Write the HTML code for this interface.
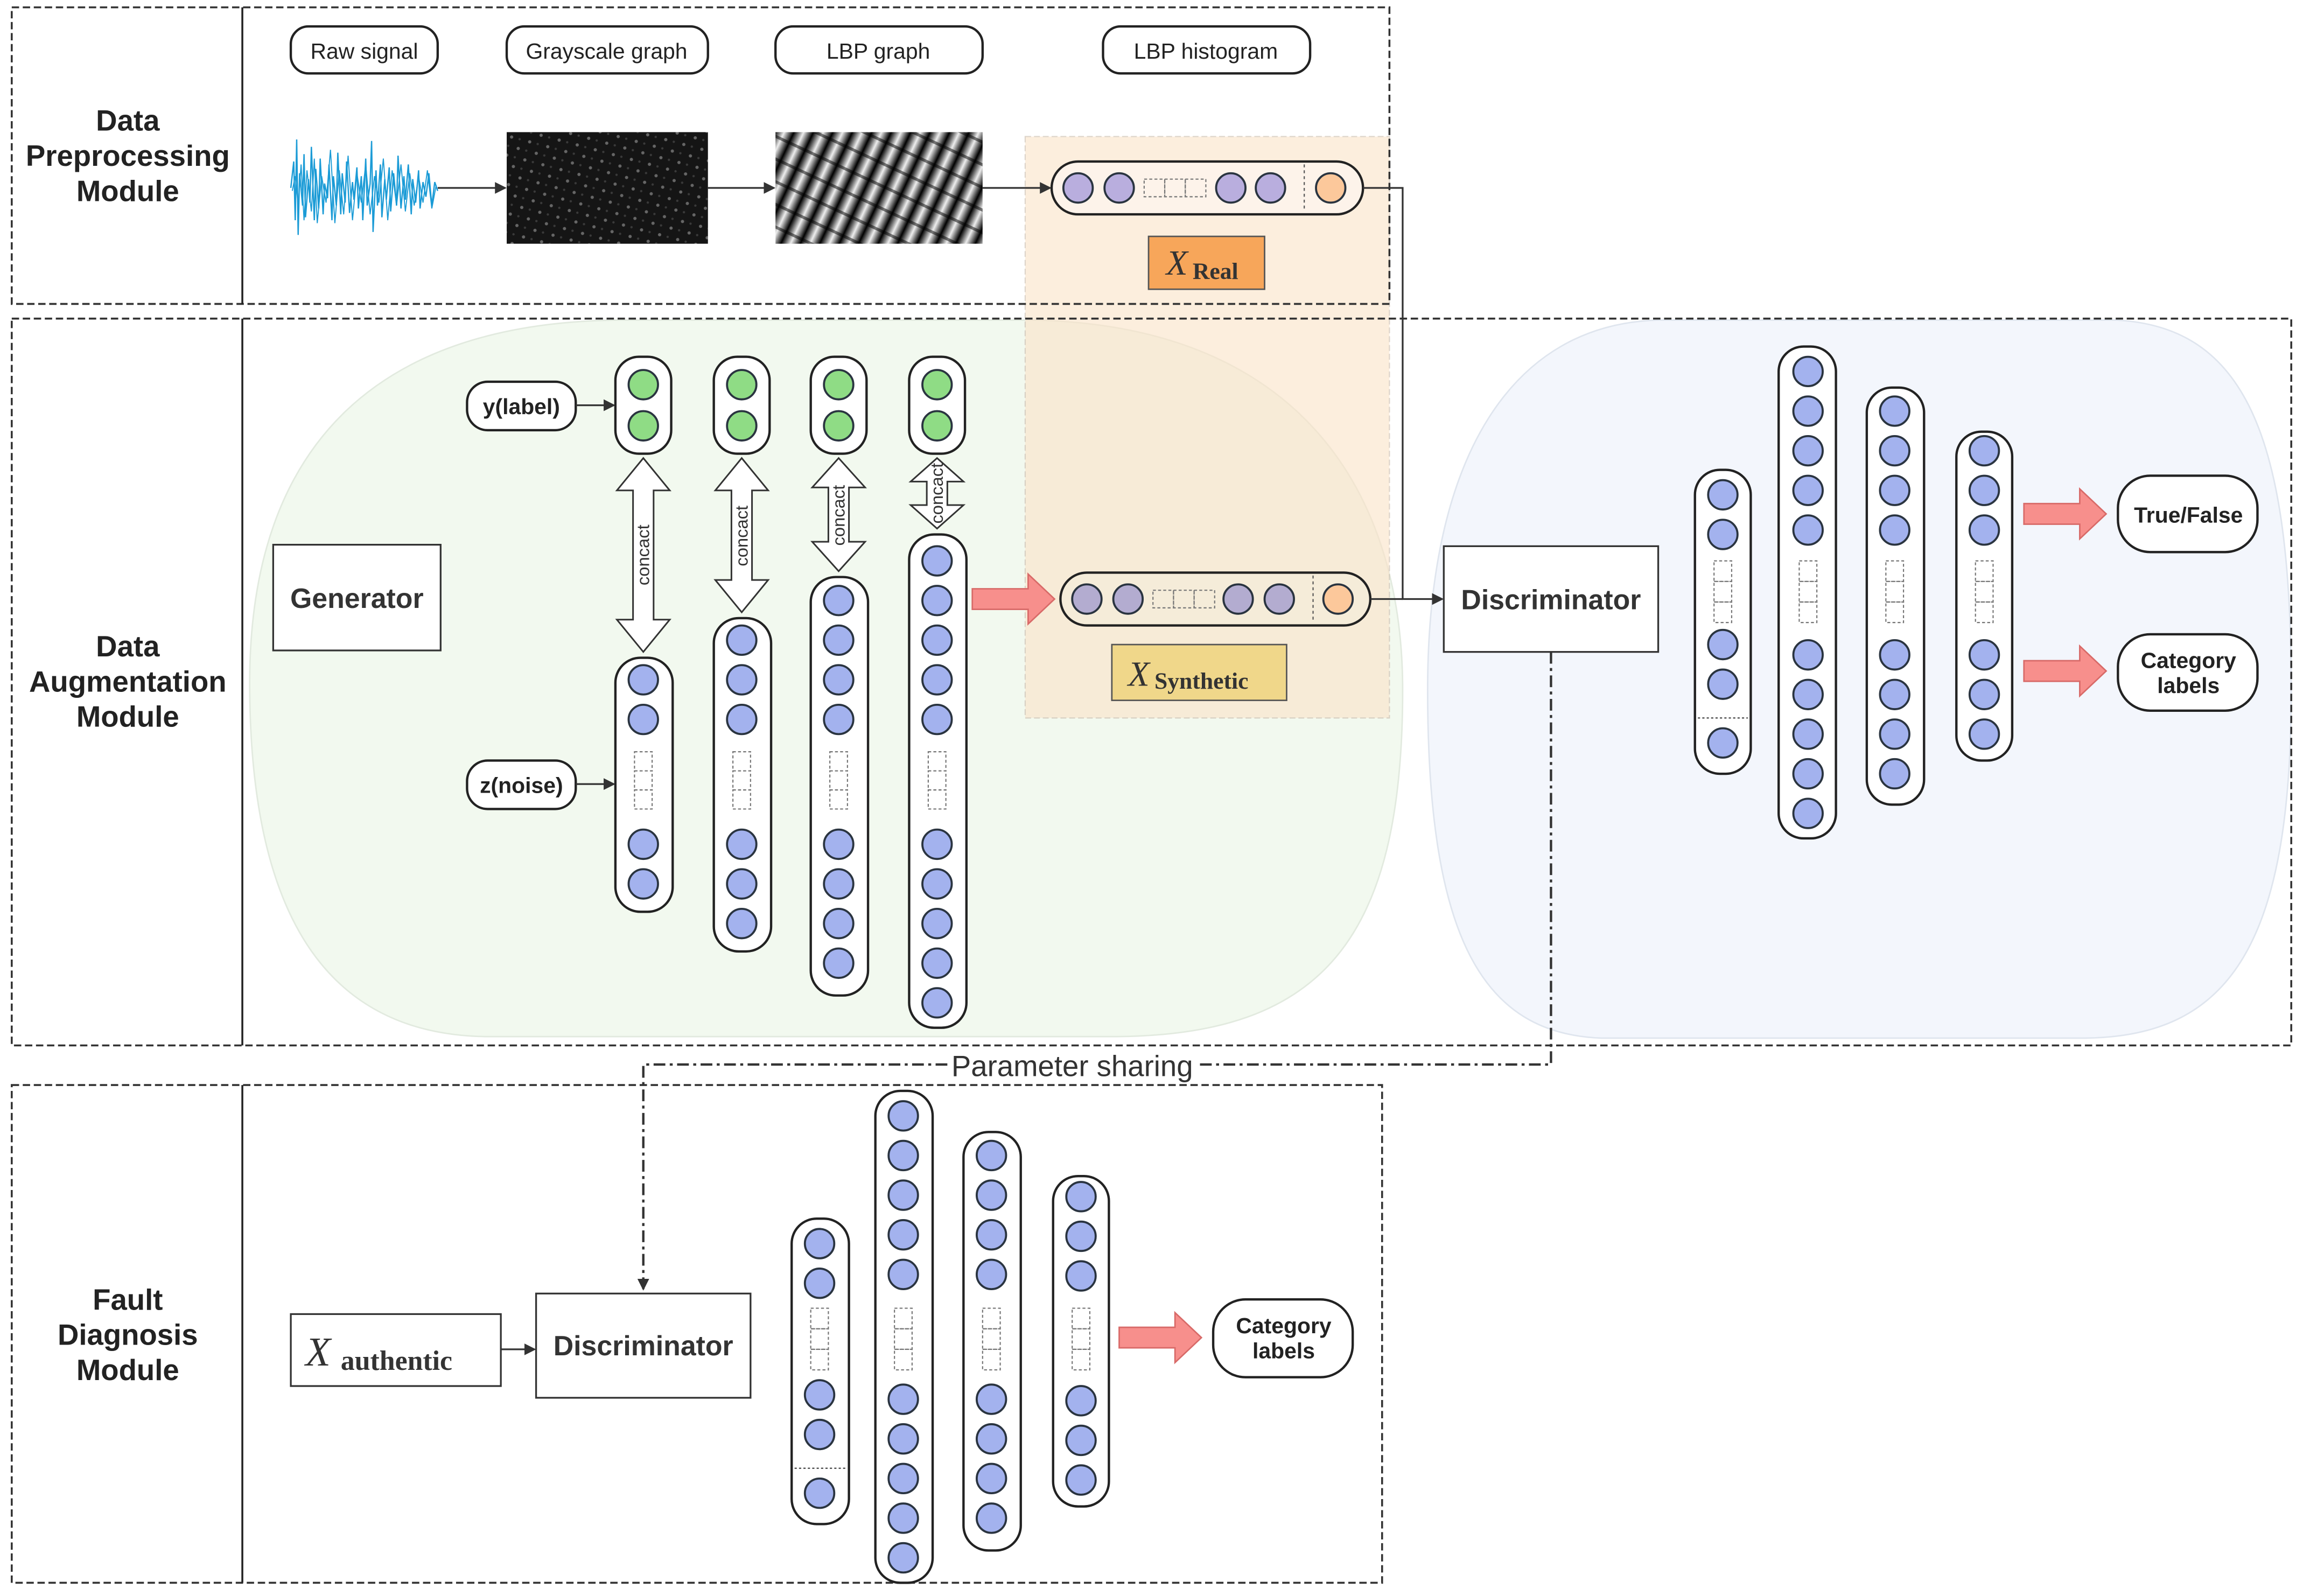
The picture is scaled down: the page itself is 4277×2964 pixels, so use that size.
<!DOCTYPE html>
<html><head><meta charset="utf-8"><style>
html,body{margin:0;padding:0;background:#fff;}
svg{display:block;}
text{font-family:"Liberation Sans",sans-serif;}
.c{fill:#a3b2ee;stroke:#2a3440;stroke-width:1.4;}
.g{fill:#8fdc85;stroke:#2a3440;stroke-width:1.4;}
.p{fill:#b9aede;stroke:#2a3440;stroke-width:1.4;}
.o{fill:#fcc89b;stroke:#2a3440;stroke-width:1.4;}
.pill{fill:#fff;stroke:#222;stroke-width:1.6;}
.ds{fill:none;stroke:#777;stroke-width:0.8;stroke-dasharray:2,1.5;}
.box{fill:#fff;stroke:#333;stroke-width:1.2;}
.mod{fill:none;stroke:#333;stroke-width:1.3;stroke-dasharray:5,2.5;}
.lbl{font-size:20px;font-weight:bold;fill:#222;text-anchor:middle;}
.pk{fill:#f78f8c;stroke:#d86a68;stroke-width:1;}
.ln{stroke:#333;stroke-width:1.2;fill:none;}
.ar{fill:#fff;stroke:#333;stroke-width:1.1;}
.mx{font-family:"Liberation Serif",serif !important;font-style:italic;fill:#333;}
.ms{font-family:"Liberation Serif",serif !important;font-weight:bold;fill:#333;}
</style></head><body>
<svg width="4277" height="2964" viewBox="0 0 1568 1087" preserveAspectRatio="none" xmlns="http://www.w3.org/2000/svg">
<defs>
<pattern id="dots" width="9" height="9" patternUnits="userSpaceOnUse" patternTransform="rotate(-30)">
<rect width="9" height="9" fill="#151515"/><circle cx="3" cy="3" r="1.1" fill="#666"/><circle cx="7" cy="7" r="0.8" fill="#3a3a3a"/>
</pattern>
<linearGradient id="sg" x1="0" x2="1"><stop offset="0" stop-color="#000"/><stop offset="0.5" stop-color="#eee"/><stop offset="1" stop-color="#000"/></linearGradient>
<pattern id="stripes" width="12" height="14" patternUnits="userSpaceOnUse" patternTransform="rotate(25)">
<rect width="12" height="14" fill="url(#sg)"/><rect y="0" width="12" height="2" fill="#000" opacity="0.5"/>
</pattern>
<marker id="ah" markerWidth="8" markerHeight="8" refX="7" refY="4" orient="auto" markerUnits="userSpaceOnUse"><path d="M0,0 L8,4 L0,8 z" fill="#333"/></marker>
</defs>

<path d="M170,465 C170,300 260,220 420,218 L700,218 C880,220 955,330 955,470 C955,640 900,705 760,706 L330,706 C220,704 170,620 170,465 Z" fill="#f2f9ef" stroke="#e2eadf" stroke-width="1"/>
<path d="M972,470 C972,310 1030,220 1130,218 L1440,218 C1530,222 1560,300 1560,470 C1560,640 1520,706 1420,707 L1090,707 C1010,704 972,640 972,470 Z" fill="#f3f6fc" stroke="#dfe5ee" stroke-width="1"/>
<rect x="698" y="93" width="248" height="396" fill="#fbe3c8" opacity="0.6" stroke="#c8b8a8" stroke-width="0.8" stroke-dasharray="4,2"/>

<rect class="mod" x="8" y="5" width="938" height="202"/>
<line x1="165" y1="5" x2="165" y2="207" stroke="#222" stroke-width="1.3"/>
<rect class="mod" x="8" y="217" width="1552" height="495"/>
<line x1="165" y1="217" x2="165" y2="712" stroke="#222" stroke-width="1.3"/>
<rect class="mod" x="8" y="739" width="933" height="339"/>
<line x1="165" y1="739" x2="165" y2="1078" stroke="#222" stroke-width="1.3"/>

<text class="lbl" x="87" y="89">Data</text><text class="lbl" x="87" y="113">Preprocessing</text><text class="lbl" x="87" y="137">Module</text>
<text class="lbl" x="87" y="447">Data</text><text class="lbl" x="87" y="471">Augmentation</text><text class="lbl" x="87" y="495">Module</text>
<text class="lbl" x="87" y="892">Fault</text><text class="lbl" x="87" y="916">Diagnosis</text><text class="lbl" x="87" y="940">Module</text>

<rect class="pill" x="198" y="18" width="100" height="32" rx="12"/><text x="248" y="40" font-size="15" text-anchor="middle" fill="#222">Raw signal</text>
<rect class="pill" x="345" y="18" width="137" height="32" rx="12"/><text x="413" y="40" font-size="15" text-anchor="middle" fill="#222">Grayscale graph</text>
<rect class="pill" x="528" y="18" width="141" height="32" rx="12"/><text x="598" y="40" font-size="15" text-anchor="middle" fill="#222">LBP graph</text>
<rect class="pill" x="751" y="18" width="141" height="32" rx="12"/><text x="821" y="40" font-size="15" text-anchor="middle" fill="#222">LBP histogram</text>

<polyline fill="none" stroke="#1b9bd6" stroke-width="0.9" points="198,128 200,110 201,150 202,95 203,160 204,118 206,140 207,105 208,148 210,122 211,138 212,100 214,150 215,115 217,142 218,108 220,146 221,125 223,135 224,112 226,150 227,120 229,140 230,104 232,146 233,118 235,138 236,110 238,145 240,124 241,136 243,114 244,142 246,120 247,150 249,108 250,140 252,125 253,96 254,158 256,116 257,140 259,112 260,148 262,122 263,136 265,114 266,144 268,118 270,140 271,106 273,142 275,120 276,136 278,112 280,146 281,122 283,138 285,116 286,142 288,124 290,134 292,118 294,140 296,124 298,130"/>
<polyline fill="none" stroke="#1b9bd6" stroke-width="0.7" points="199,130 201,120 203,140 205,112 207,150 209,116 212,144 214,108 216,152 219,120 222,138 225,102 228,152 231,116 234,146 237,106 240,150 243,118 246,138 249,112 252,146 255,120 258,138 261,108 264,150 267,116 270,140 273,112 276,144 279,118 282,140 285,120 288,138 291,116 294,142 297,126"/>
<line x1="298" y1="128" x2="344" y2="128" class="ln" marker-end="url(#ah)"/>
<rect x="345" y="90" width="137" height="76" fill="url(#dots)"/>
<line x1="482" y1="128" x2="527" y2="128" class="ln" marker-end="url(#ah)"/>
<rect x="528" y="90" width="141" height="76" fill="url(#stripes)"/>
<line x1="669" y1="128" x2="715" y2="128" class="ln" marker-end="url(#ah)"/>

<rect class="pill" x="716" y="110" width="212" height="36" rx="18" style="fill:#fdf3ea"/>
<circle class="p" cx="734" cy="128" r="10"/><circle class="p" cx="762" cy="128" r="10"/>
<rect class="ds" x="779" y="122" width="14" height="12"/><rect class="ds" x="793" y="122" width="14" height="12"/><rect class="ds" x="807" y="122" width="14" height="12"/>
<circle class="p" cx="838" cy="128" r="10"/><circle class="p" cx="865" cy="128" r="10"/>
<line x1="888" y1="112" x2="888" y2="144" stroke="#555" stroke-width="0.8" stroke-dasharray="2,2"/>
<circle class="o" cx="906" cy="128" r="10"/>
<rect x="782" y="161" width="79" height="36" fill="#f7a65a" stroke="#555" stroke-width="1"/>
<text class="mx" x="794" y="187" font-size="24">X</text><text class="ms" x="812" y="190" font-size="16">Real</text>
<polyline points="928,128 955,128 955,408 982,408" class="ln" marker-end="url(#ah)"/>

<rect class="box" x="186" y="371" width="114" height="72"/><text x="243" y="414" font-size="19" font-weight="bold" text-anchor="middle" fill="#333">Generator</text>
<rect class="pill" x="318" y="260" width="74" height="33" rx="14"/><text x="355" y="282" font-size="15" font-weight="bold" text-anchor="middle" fill="#222">y(label)</text>
<line x1="392" y1="276" x2="418" y2="276" class="ln" marker-end="url(#ah)"/>
<rect class="pill" x="318" y="518" width="74" height="33" rx="14"/><text x="355" y="540" font-size="15" font-weight="bold" text-anchor="middle" fill="#222">z(noise)</text>
<line x1="392" y1="534" x2="418" y2="534" class="ln" marker-end="url(#ah)"/>

<rect class="pill" x="419" y="243" width="38" height="66" rx="16"/><circle class="g" cx="438" cy="262" r="10"/><circle class="g" cx="438" cy="290" r="10"/>
<rect class="pill" x="486" y="243" width="38" height="66" rx="16"/><circle class="g" cx="505" cy="262" r="10"/><circle class="g" cx="505" cy="290" r="10"/>
<rect class="pill" x="552" y="243" width="38" height="66" rx="16"/><circle class="g" cx="571" cy="262" r="10"/><circle class="g" cx="571" cy="290" r="10"/>
<rect class="pill" x="619" y="243" width="38" height="66" rx="16"/><circle class="g" cx="638" cy="262" r="10"/><circle class="g" cx="638" cy="290" r="10"/>

<path class="ar" d="M438,312 L456,334 L445,334 L445,422 L456,422 L438,444 L420,422 L431,422 L431,334 L420,334 Z"/>
<text transform="translate(442,378) rotate(-90)" font-size="12" text-anchor="middle" fill="#333">concact</text>
<path class="ar" d="M505,312 L523,334 L512,334 L512,395 L523,395 L505,417 L487,395 L498,395 L498,334 L487,334 Z"/>
<text transform="translate(509,365) rotate(-90)" font-size="12" text-anchor="middle" fill="#333">concact</text>
<path class="ar" d="M571,312 L589,332 L578,332 L578,369 L589,369 L571,389 L553,369 L564,369 L564,332 L553,332 Z"/>
<text transform="translate(575,351) rotate(-90)" font-size="12" text-anchor="middle" fill="#333">concact</text>
<path class="ar" d="M638,312 L656,328 L645,328 L645,344 L656,344 L638,360 L620,344 L631,344 L631,328 L620,328 Z"/>
<text transform="translate(642,336) rotate(-90)" font-size="12" text-anchor="middle" fill="#333">concact</text>

<rect class="pill" x="419" y="448" width="39" height="173" rx="17"/>
<circle class="c" cx="438" cy="463" r="10"/><circle class="c" cx="438" cy="490" r="10"/>
<rect class="ds" x="432" y="512" width="12" height="13"/><rect class="ds" x="432" y="525" width="12" height="13"/><rect class="ds" x="432" y="538" width="12" height="13"/>
<circle class="c" cx="438" cy="575" r="10"/><circle class="c" cx="438" cy="602" r="10"/>

<rect class="pill" x="486" y="421" width="39" height="227" rx="17"/>
<circle class="c" cx="505" cy="436" r="10"/><circle class="c" cx="505" cy="463" r="10"/><circle class="c" cx="505" cy="490" r="10"/>
<rect class="ds" x="499" y="512" width="12" height="13"/><rect class="ds" x="499" y="525" width="12" height="13"/><rect class="ds" x="499" y="538" width="12" height="13"/>
<circle class="c" cx="505" cy="575" r="10"/><circle class="c" cx="505" cy="602" r="10"/><circle class="c" cx="505" cy="629" r="10"/>

<rect class="pill" x="552" y="393" width="39" height="285" rx="17"/>
<circle class="c" cx="571" cy="409" r="10"/><circle class="c" cx="571" cy="436" r="10"/><circle class="c" cx="571" cy="463" r="10"/><circle class="c" cx="571" cy="490" r="10"/>
<rect class="ds" x="565" y="512" width="12" height="13"/><rect class="ds" x="565" y="525" width="12" height="13"/><rect class="ds" x="565" y="538" width="12" height="13"/>
<circle class="c" cx="571" cy="575" r="10"/><circle class="c" cx="571" cy="602" r="10"/><circle class="c" cx="571" cy="629" r="10"/><circle class="c" cx="571" cy="656" r="10"/>

<rect class="pill" x="619" y="364" width="39" height="336" rx="17"/>
<circle class="c" cx="638" cy="382" r="10"/><circle class="c" cx="638" cy="409" r="10"/><circle class="c" cx="638" cy="436" r="10"/><circle class="c" cx="638" cy="463" r="10"/><circle class="c" cx="638" cy="490" r="10"/>
<rect class="ds" x="632" y="512" width="12" height="13"/><rect class="ds" x="632" y="525" width="12" height="13"/><rect class="ds" x="632" y="538" width="12" height="13"/>
<circle class="c" cx="638" cy="575" r="10"/><circle class="c" cx="638" cy="602" r="10"/><circle class="c" cx="638" cy="629" r="10"/><circle class="c" cx="638" cy="656" r="10"/><circle class="c" cx="638" cy="683" r="10"/>

<path class="pk" d="M662,401 L700,401 L700,391 L718,408 L700,425 L700,415 L662,415 Z"/>
<rect class="pill" x="722" y="390" width="211" height="36" rx="18" style="fill:#f5ecd9"/>
<circle class="p" cx="740" cy="408" r="10" style="fill:#b3acd0"/><circle class="p" cx="768" cy="408" r="10" style="fill:#b3acd0"/>
<rect class="ds" x="785" y="402" width="14" height="12"/><rect class="ds" x="799" y="402" width="14" height="12"/><rect class="ds" x="813" y="402" width="14" height="12"/>
<circle class="p" cx="843" cy="408" r="10" style="fill:#b3acd0"/><circle class="p" cx="871" cy="408" r="10" style="fill:#b3acd0"/>
<line x1="894" y1="392" x2="894" y2="424" stroke="#555" stroke-width="0.8" stroke-dasharray="2,2"/>
<circle class="o" cx="911" cy="408" r="10"/>
<line x1="933" y1="408" x2="955" y2="408" class="ln"/>
<rect x="757" y="439" width="119" height="38" fill="#f0d78a" stroke="#555" stroke-width="1"/>
<text class="mx" x="768" y="467" font-size="24">X</text><text class="ms" x="786" y="469" font-size="16">Synthetic</text>

<rect class="box" x="983" y="372" width="146" height="72"/><text x="1056" y="415" font-size="19" font-weight="bold" text-anchor="middle" fill="#333">Discriminator</text>
<polyline points="1056,444 1056,725 815,725" fill="none" stroke="#333" stroke-width="1.6" stroke-dasharray="8,3,2,3"/>
<polyline points="645,725 438,725 438,878" fill="none" stroke="#333" stroke-width="1.6" stroke-dasharray="8,3,2,3" marker-end="url(#ah)"/>
<text x="730" y="733" font-size="20" text-anchor="middle" fill="#333">Parameter sharing</text>

<rect class="pill" x="1154" y="320" width="38" height="207" rx="17"/>
<circle class="c" cx="1173" cy="337" r="10"/><circle class="c" cx="1173" cy="364" r="10"/>
<rect class="ds" x="1167" y="382" width="12" height="14"/><rect class="ds" x="1167" y="396" width="12" height="14"/><rect class="ds" x="1167" y="410" width="12" height="14"/>
<circle class="c" cx="1173" cy="439" r="10"/><circle class="c" cx="1173" cy="466" r="10"/>
<line x1="1156" y1="489" x2="1190" y2="489" stroke="#444" stroke-width="0.8" stroke-dasharray="1.5,1.5"/>
<circle class="c" cx="1173" cy="506" r="10"/>

<rect class="pill" x="1211" y="236" width="39" height="335" rx="17"/>
<circle class="c" cx="1231" cy="253" r="10"/><circle class="c" cx="1231" cy="280" r="10"/><circle class="c" cx="1231" cy="307" r="10"/><circle class="c" cx="1231" cy="334" r="10"/><circle class="c" cx="1231" cy="361" r="10"/>
<rect class="ds" x="1225" y="382" width="12" height="14"/><rect class="ds" x="1225" y="396" width="12" height="14"/><rect class="ds" x="1225" y="410" width="12" height="14"/>
<circle class="c" cx="1231" cy="446" r="10"/><circle class="c" cx="1231" cy="473" r="10"/><circle class="c" cx="1231" cy="500" r="10"/><circle class="c" cx="1231" cy="527" r="10"/><circle class="c" cx="1231" cy="554" r="10"/>

<rect class="pill" x="1271" y="264" width="39" height="284" rx="17"/>
<circle class="c" cx="1290" cy="280" r="10"/><circle class="c" cx="1290" cy="307" r="10"/><circle class="c" cx="1290" cy="334" r="10"/><circle class="c" cx="1290" cy="361" r="10"/>
<rect class="ds" x="1284" y="382" width="12" height="14"/><rect class="ds" x="1284" y="396" width="12" height="14"/><rect class="ds" x="1284" y="410" width="12" height="14"/>
<circle class="c" cx="1290" cy="446" r="10"/><circle class="c" cx="1290" cy="473" r="10"/><circle class="c" cx="1290" cy="500" r="10"/><circle class="c" cx="1290" cy="527" r="10"/>

<rect class="pill" x="1332" y="294" width="38" height="224" rx="17"/>
<circle class="c" cx="1351" cy="307" r="10"/><circle class="c" cx="1351" cy="334" r="10"/><circle class="c" cx="1351" cy="361" r="10"/>
<rect class="ds" x="1345" y="382" width="12" height="14"/><rect class="ds" x="1345" y="396" width="12" height="14"/><rect class="ds" x="1345" y="410" width="12" height="14"/>
<circle class="c" cx="1351" cy="446" r="10"/><circle class="c" cx="1351" cy="473" r="10"/><circle class="c" cx="1351" cy="500" r="10"/>

<path class="pk" d="M1378,343 L1416,343 L1416,333 L1434,350 L1416,367 L1416,357 L1378,357 Z"/>
<path class="pk" d="M1378,450 L1416,450 L1416,440 L1434,457 L1416,474 L1416,464 L1378,464 Z"/>
<rect class="pill" x="1442" y="324" width="95" height="52" rx="22"/><text x="1490" y="356" font-size="15" font-weight="bold" text-anchor="middle" fill="#222">True/False</text>
<rect class="pill" x="1442" y="432" width="95" height="52" rx="22"/><text x="1490" y="455" font-size="15" font-weight="bold" text-anchor="middle" fill="#222">Category</text><text x="1490" y="472" font-size="15" font-weight="bold" text-anchor="middle" fill="#222">labels</text>

<rect class="box" x="198" y="895" width="143" height="49"/>
<text class="mx" x="208" y="930" font-size="28">X</text><text class="ms" x="232" y="933" font-size="19">authentic</text>
<line x1="341" y1="919" x2="364" y2="919" class="ln" marker-end="url(#ah)"/>
<rect class="box" x="365" y="881" width="146" height="71"/><text x="438" y="923" font-size="19" font-weight="bold" text-anchor="middle" fill="#333">Discriminator</text>

<rect class="pill" x="539" y="830" width="39" height="208" rx="17"/>
<circle class="c" cx="558" cy="847" r="10"/><circle class="c" cx="558" cy="874" r="10"/>
<rect class="ds" x="552" y="891" width="12" height="14"/><rect class="ds" x="552" y="905" width="12" height="14"/><rect class="ds" x="552" y="919" width="12" height="14"/>
<circle class="c" cx="558" cy="950" r="10"/><circle class="c" cx="558" cy="977" r="10"/>
<line x1="541" y1="1000" x2="576" y2="1000" stroke="#444" stroke-width="0.8" stroke-dasharray="1.5,1.5"/>
<circle class="c" cx="558" cy="1017" r="10"/>

<rect class="pill" x="596" y="743" width="39" height="335" rx="17"/>
<circle class="c" cx="615" cy="760" r="10"/><circle class="c" cx="615" cy="787" r="10"/><circle class="c" cx="615" cy="814" r="10"/><circle class="c" cx="615" cy="841" r="10"/><circle class="c" cx="615" cy="868" r="10"/>
<rect class="ds" x="609" y="891" width="12" height="14"/><rect class="ds" x="609" y="905" width="12" height="14"/><rect class="ds" x="609" y="919" width="12" height="14"/>
<circle class="c" cx="615" cy="953" r="10"/><circle class="c" cx="615" cy="980" r="10"/><circle class="c" cx="615" cy="1007" r="10"/><circle class="c" cx="615" cy="1034" r="10"/><circle class="c" cx="615" cy="1061" r="10"/>

<rect class="pill" x="656" y="771" width="39" height="285" rx="17"/>
<circle class="c" cx="675" cy="787" r="10"/><circle class="c" cx="675" cy="814" r="10"/><circle class="c" cx="675" cy="841" r="10"/><circle class="c" cx="675" cy="868" r="10"/>
<rect class="ds" x="669" y="891" width="12" height="14"/><rect class="ds" x="669" y="905" width="12" height="14"/><rect class="ds" x="669" y="919" width="12" height="14"/>
<circle class="c" cx="675" cy="953" r="10"/><circle class="c" cx="675" cy="980" r="10"/><circle class="c" cx="675" cy="1007" r="10"/><circle class="c" cx="675" cy="1034" r="10"/>

<rect class="pill" x="717" y="801" width="38" height="225" rx="17"/>
<circle class="c" cx="736" cy="815" r="10"/><circle class="c" cx="736" cy="842" r="10"/><circle class="c" cx="736" cy="869" r="10"/>
<rect class="ds" x="730" y="891" width="12" height="14"/><rect class="ds" x="730" y="905" width="12" height="14"/><rect class="ds" x="730" y="919" width="12" height="14"/>
<circle class="c" cx="736" cy="954" r="10"/><circle class="c" cx="736" cy="981" r="10"/><circle class="c" cx="736" cy="1008" r="10"/>

<path class="pk" d="M762,904 L800,904 L800,894 L818,911 L800,928 L800,918 L762,918 Z"/>
<rect class="pill" x="826" y="885" width="95" height="53" rx="22"/><text x="874" y="908" font-size="15" font-weight="bold" text-anchor="middle" fill="#222">Category</text><text x="874" y="925" font-size="15" font-weight="bold" text-anchor="middle" fill="#222">labels</text>
</svg>
</body></html>
